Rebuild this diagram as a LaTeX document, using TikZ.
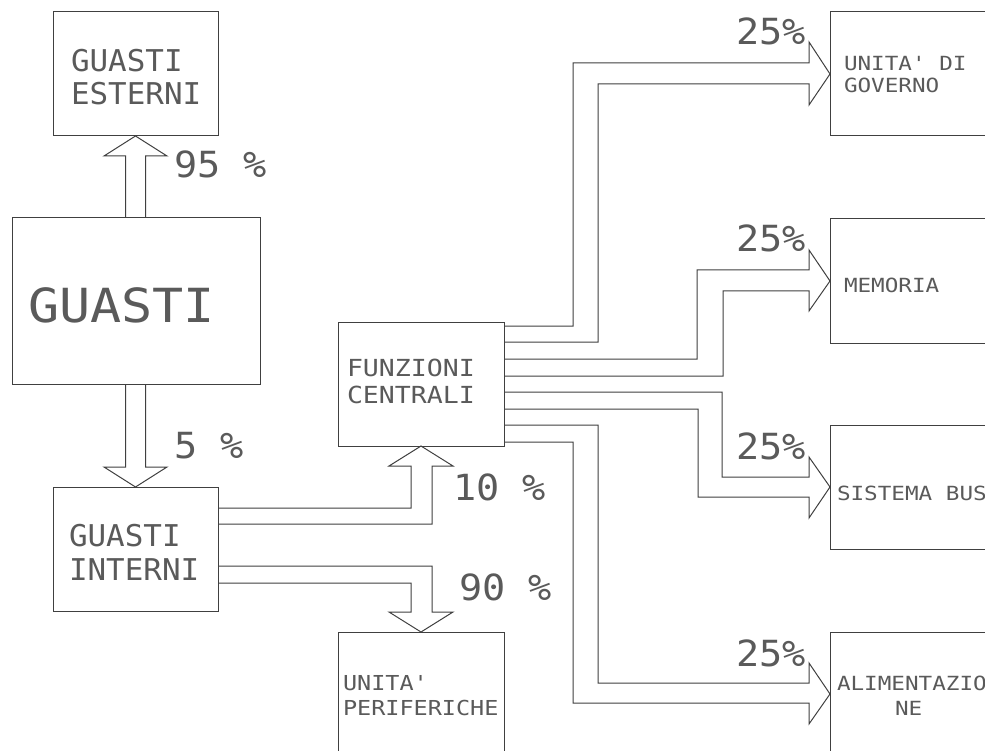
\documentclass[tikz,border=0pt]{standalone}
\usepackage{fontspec}
\newfontfamily\cad{DejaVu Sans Mono}
\definecolor{ink}{HTML}{404040}
\definecolor{inktxt}{HTML}{5A5A5A}
\newcommand{\fs}[2]{\fontsize{#1}{#1}\selectfont\addfontfeatures{FakeStretch=#2}}
\begin{document}
\begin{tikzpicture}[x=1pt,y=-1pt,
  box/.style={draw=ink, line width=1pt, inner sep=0pt, outer sep=0pt, rectangle},
  smallbox/.style={box, minimum width=165pt, minimum height=124pt},
  flow/.style={draw=ink, line width=1pt, line join=miter},
  txt/.style={anchor=base west, inner sep=0pt, outer sep=0pt, text=inktxt, font=\cad},
]
\useasboundingbox (0,0) rectangle (985,751);
\clip (0,0) rectangle (985,751);
\fill[white] (0,0) rectangle (985,751);

% boxes
\node[smallbox] (est) at (135.5,74) {};
\node[box, minimum width=248pt, minimum height=166pt] (gua) at (136,301) {};
\node[smallbox] (int) at (135.5,549) {};
\node[smallbox, minimum width=166pt] (fun) at (421,384) {};
\node[smallbox, minimum width=166pt] (per) at (421,694) {};
\node[smallbox, minimum width=166pt] (gov) at (913,74) {};
\node[smallbox, minimum width=166pt] (mem) at (913,281) {};
\node[smallbox, minimum width=166pt] (bus) at (913,487) {};
\node[smallbox, minimum width=166pt] (ali) at (913,694) {};

% texts
\node[txt] (t1) at (71,72) {\fs{30}{1.03}GUASTI};
\node[txt] (t2) at (71,105) {\fs{30}{1.03}ESTERNI};
\node[txt] (t3) at (28,322) {\fs{47}{1.1}GUASTI};
\node[txt] (t4) at (69,546) {\fs{30}{1.03}GUASTI};
\node[txt] (t5) at (69,580) {\fs{30}{1.03}INTERNI};
\node[txt] (t6) at (347,376) {\fs{23.5}{1.13}FUNZIONI};
\node[txt] (t7) at (347,403) {\fs{23.5}{1.13}CENTRALI};
\node[txt] (t8) at (343,690) {\fs{20.6}{1.14}UNITA'};
\node[txt] (t9) at (343,715) {\fs{20.6}{1.14}PERIFERICHE};
\node[txt] (t10) at (844,71) {\fs{19.5}{1.16}UNITA' DI};
\node[txt] (t11) at (844,93) {\fs{19.5}{1.16}GOVERNO};
\node[txt] (t12) at (844,293) {\fs{19.5}{1.16}MEMORIA};
\node[txt] (t13) at (837,500) {\fs{19.5}{1.16}SISTEMA BUS};
\node[txt] (t14) at (837,690) {\fs{19.5}{1.16}ALIMENTAZIO};
\node[txt] (t15) at (895,715) {\fs{19.5}{1.16}NE};

\node[txt] (p1) at (174,178) {\fs{36}{1.07}95 \%};
\node[txt] (p2) at (174,458) {\fs{36}{1.07}5 \%};
\node[txt] (p3) at (453,500) {\fs{36}{1.07}10 \%};
\node[txt] (p4) at (459,600) {\fs{36}{1.07}90 \%};
\node[txt] (p5) at (736,45) {\fs{36}{1.07}25\%};
\node[txt] (p6) at (736,252) {\fs{36}{1.07}25\%};
\node[txt] (p7) at (736,459) {\fs{36}{1.07}25\%};
\node[txt] (p8) at (736,666) {\fs{36}{1.07}25\%};

% hollow arrows
% GUASTI -> GUASTI ESTERNI
\draw[flow] (125.5,218) -- (125.5,156) -- (104,156) -- (est.south) -- (167,156) -- (145.5,156) -- (145.5,218);
% GUASTI -> GUASTI INTERNI
\draw[flow] (125.5,384) -- (125.5,467) -- (104,467) -- (int.north) -- (167,467) -- (145.5,467) -- (145.5,384);
% GUASTI INTERNI -> FUNZIONI CENTRALI
\draw[flow] (218,508) -- (411,508) -- (411,466) -- (389,466) -- (fun.south) -- (453,466) -- (432,466) -- (432,524) -- (218,524);
% GUASTI INTERNI -> UNITA' PERIFERICHE
\draw[flow] (218,566) -- (432,566) -- (432,612) -- (453,612) -- (per.north) -- (389,612) -- (411,612) -- (411,583) -- (218,583);
% FUNZIONI CENTRALI -> UNITA' DI GOVERNO
\draw[flow] (504,326) -- (573,326) -- (573,63) -- (809,63) -- (809,42) -- (gov.west) -- (809,105) -- (809,84) -- (598,84) -- (598,342) -- (504,342);
% FUNZIONI CENTRALI -> MEMORIA
\draw[flow] (504,359) -- (697,359) -- (697,270) -- (809,270) -- (809,250) -- (mem.west) -- (809,311) -- (809,291) -- (723,291) -- (723,376) -- (504,376);
% FUNZIONI CENTRALI -> SISTEMA BUS
\draw[flow] (504,392) -- (722,392) -- (722,477) -- (809,477) -- (809,457) -- (bus.west) -- (809,518) -- (809,497) -- (698,497) -- (698,409) -- (504,409);
% FUNZIONI CENTRALI -> ALIMENTAZIONE
\draw[flow] (504,425) -- (598,425) -- (598,683) -- (809,683) -- (809,663) -- (ali.west) -- (809,724) -- (809,703) -- (573,703) -- (573,442) -- (504,442);
\end{tikzpicture}
\end{document}
